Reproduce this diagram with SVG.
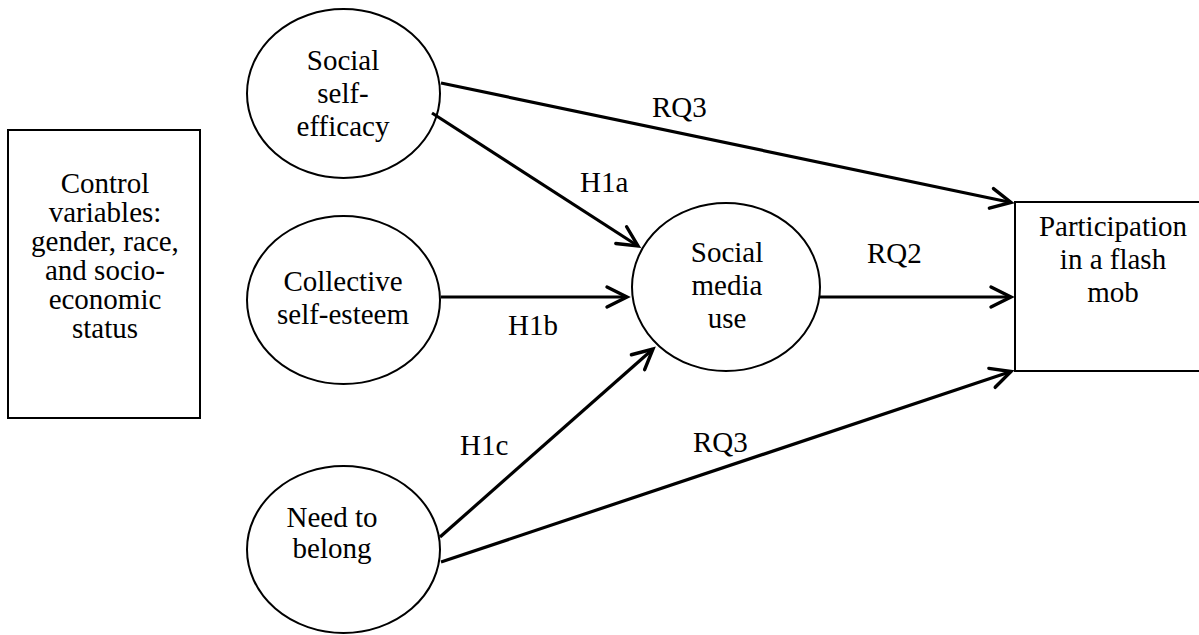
<svg xmlns="http://www.w3.org/2000/svg" width="1199" height="635" viewBox="0 0 1199 635">
<style>
text{font-family:"Liberation Serif","Times New Roman","DejaVu Serif",serif;font-size:29px;fill:#000;text-anchor:middle}
.node{fill:#fff;stroke:#000;stroke-width:2}
.edge{stroke:#000;stroke-width:3.2;fill:none;marker-end:url(#arr)}
.lbl{text-anchor:start}
</style>
<defs>
<marker id="arr" markerUnits="userSpaceOnUse" viewBox="-24 -14 28 28" markerWidth="28" markerHeight="28" refX="0" refY="0" orient="auto" overflow="visible">
<path d="M-20,-10 L0,0 L-20,10" fill="none" stroke="#000" stroke-width="3.4" stroke-linecap="round" stroke-linejoin="miter"/>
</marker>
</defs>
<rect width="1199" height="635" fill="#fff"/>
<g id="control">
<rect class="node" x="8" y="130" width="192" height="288"/>
<text x="105" y="193">Control</text>
<text x="105" y="222">variables:</text>
<text x="105" y="251">gender, race,</text>
<text x="105" y="280">and socio-</text>
<text x="105" y="309">economic</text>
<text x="105" y="338">status</text>
</g>
<g id="sse">
<ellipse class="node" cx="343.5" cy="93.5" rx="96.5" ry="84.5"/>
<text x="343" y="70">Social</text>
<text x="343" y="103">self-</text>
<text x="343" y="136">efficacy</text>
</g>
<g id="cse">
<ellipse class="node" cx="343.5" cy="300" rx="96.5" ry="84"/>
<text x="343" y="291">Collective</text>
<text x="343" y="324">self-esteem</text>
</g>
<g id="ntb">
<ellipse class="node" cx="343.5" cy="549.5" rx="96.5" ry="83.5"/>
<text x="332" y="527">Need to</text>
<text x="332" y="558">belong</text>
</g>
<g id="smu">
<ellipse class="node" cx="726" cy="287" rx="94" ry="84"/>
<text x="727" y="262">Social</text>
<text x="727" y="295">media</text>
<text x="727" y="328">use</text>
</g>
<g id="part">
<rect class="node" x="1015" y="202" width="200" height="169"/>
<text x="1113" y="236">Participation</text>
<text x="1113" y="269">in a flash</text>
<text x="1113" y="302">mob</text>
</g>
<g id="connectors">
<line class="edge" x1="441" y1="83" x2="1011" y2="202.5"/>
<line class="edge" x1="432" y1="113" x2="638" y2="246"/>
<line class="edge" x1="441" y1="297" x2="627" y2="297"/>
<line class="edge" x1="440" y1="537" x2="653" y2="349"/>
<line class="edge" x1="441" y1="562" x2="1011" y2="371.5"/>
<line class="edge" x1="820" y1="297" x2="1011" y2="297"/>
<text class="lbl" x="652" y="117">RQ3</text>
<text class="lbl" x="580" y="192">H1a</text>
<text class="lbl" x="867" y="263">RQ2</text>
<text class="lbl" x="508" y="335">H1b</text>
<text class="lbl" x="460" y="455">H1c</text>
<text class="lbl" x="693" y="452">RQ3</text>
</g>
</svg>
